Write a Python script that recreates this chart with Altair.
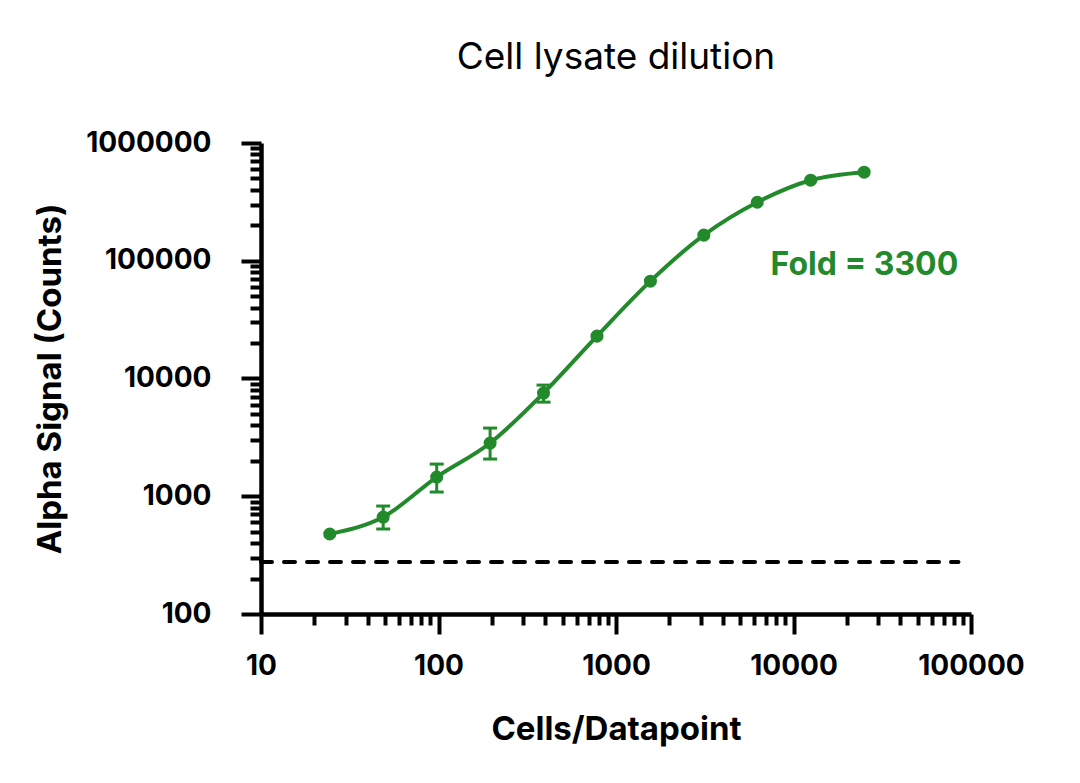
import altair as alt
import pandas as pd

# Cell lysate dilution series (2-fold)
cells = [24.4, 48.8, 97.7, 195.3, 390.6, 781.3, 1562.5, 3125, 6250, 12500, 25000]
signal = [478, 666, 1455, 2830, 7520, 22900, 67100, 165000, 314000, 483000, 565000]

# error bars only visible on the low-dilution points
err_cells = [48.8, 97.7, 195.3, 390.6]
err_lo = [527, 1086, 2070, 6300]
err_hi = [826, 1876, 3793, 8790]

# background level (dashed line)
bg_level = 276
bg_x = [10, 85000]

fold_label = "Fold = 3300"
fold_pos = (7430, 75500)

x_ticks = [m * 10**e for e in range(1, 5) for m in range(1, 10)] + [100000]
y_ticks = [m * 10**e for e in range(2, 6) for m in range(1, 10)] + [1000000]

GREEN = "#238a2c"
FONT = "Inter"

is_decade = "abs(log(datum.value)/LN10 - round(log(datum.value)/LN10)) < 0.001"

df = pd.DataFrame({"cells": cells, "signal": signal})
df_err = pd.DataFrame({"cells": err_cells, "lo": err_lo, "hi": err_hi})
df_bg = pd.DataFrame({"cells": bg_x, "signal": [bg_level] * len(bg_x)})
df_txt = pd.DataFrame({"cells": [fold_pos[0]], "signal": [fold_pos[1]], "t": [fold_label]})

x_scale = alt.Scale(type="log", domain=[10, 100000], nice=False)
y_scale = alt.Scale(type="log", domain=[100, 1000000], nice=False)

x_axis = alt.Axis(
    values=x_ticks,
    labelExpr=f"{is_decade} ? format(datum.value, 'd') : ''",
    tickSize={"condition": {"test": is_decade, "value": 20}, "value": 11},
    labelPadding=18,
    labelOverlap=False,
    labelBound=False,
    labelFlush=False,
    title="Cells/Datapoint",
    titlePadding=33,
    grid=False,
)
y_axis = alt.Axis(
    values=y_ticks,
    labelExpr=f"{is_decade} ? format(datum.value, 'd') : ''",
    tickSize={"condition": {"test": is_decade, "value": 20}, "value": 11},
    labelPadding=30,
    labelOverlap=False,
    labelBound=False,
    labelFlush=False,
    title="Alpha Signal (Counts)",
    titlePadding=18,
    grid=False,
)

base = alt.Chart(df)

curve = base.mark_line(color=GREEN, strokeWidth=4, interpolate="monotone").encode(
    x=alt.X("cells:Q", scale=x_scale, axis=x_axis),
    y=alt.Y("signal:Q", scale=y_scale, axis=y_axis),
)

points = base.mark_circle(color=GREEN, size=170, opacity=1).encode(
    x=alt.X("cells:Q", scale=x_scale),
    y=alt.Y("signal:Q", scale=y_scale),
)

errs = alt.Chart(df_err).mark_errorbar(
    ticks={"size": 14, "thickness": 3, "color": GREEN, "opacity": 1},
    rule={"strokeWidth": 3, "color": GREEN, "opacity": 1},
    color=GREEN,
    opacity=1,
).encode(
    x=alt.X("cells:Q", scale=x_scale),
    y=alt.Y("lo:Q", scale=y_scale, title="Alpha Signal (Counts)"),
    y2="hi:Q",
)

bg = alt.Chart(df_bg).mark_line(
    color="black", strokeWidth=4, strokeDash=[11, 12], strokeCap="round"
).encode(
    x=alt.X("cells:Q", scale=x_scale),
    y=alt.Y("signal:Q", scale=y_scale),
)

fold = alt.Chart(df_txt).mark_text(
    color=GREEN, font=FONT, fontSize=32, fontWeight="bold", align="left", baseline="alphabetic"
).encode(
    x=alt.X("cells:Q", scale=x_scale),
    y=alt.Y("signal:Q", scale=y_scale),
    text="t:N",
)

chart = (
    alt.layer(bg, curve, errs, points, fold)
    .properties(
        width=710,
        height=471,
        autosize=alt.AutoSizeParams(type="none"),
        padding={"left": 253, "top": 135, "right": 90, "bottom": 150},
        title=alt.TitleParams(
            "Cell lysate dilution",
            font=FONT,
            fontSize=37,
            fontWeight="normal",
            color="black",
            anchor="middle",
            frame="group",
            offset=52,
        ),
    )
    .configure_view(stroke=None)
    .configure_axis(
        domainColor="black",
        domainWidth=4.5,
        tickColor="black",
        tickWidth=4,
        labelFont=FONT,
        labelFontSize=28,
        labelFontWeight="bold",
        labelColor="black",
        titleFont=FONT,
        titleFontSize=33,
        titleFontWeight="bold",
        titleColor="black",
    )
)

chart.save("out.html", embed_options={"renderer": "svg", "actions": False})
